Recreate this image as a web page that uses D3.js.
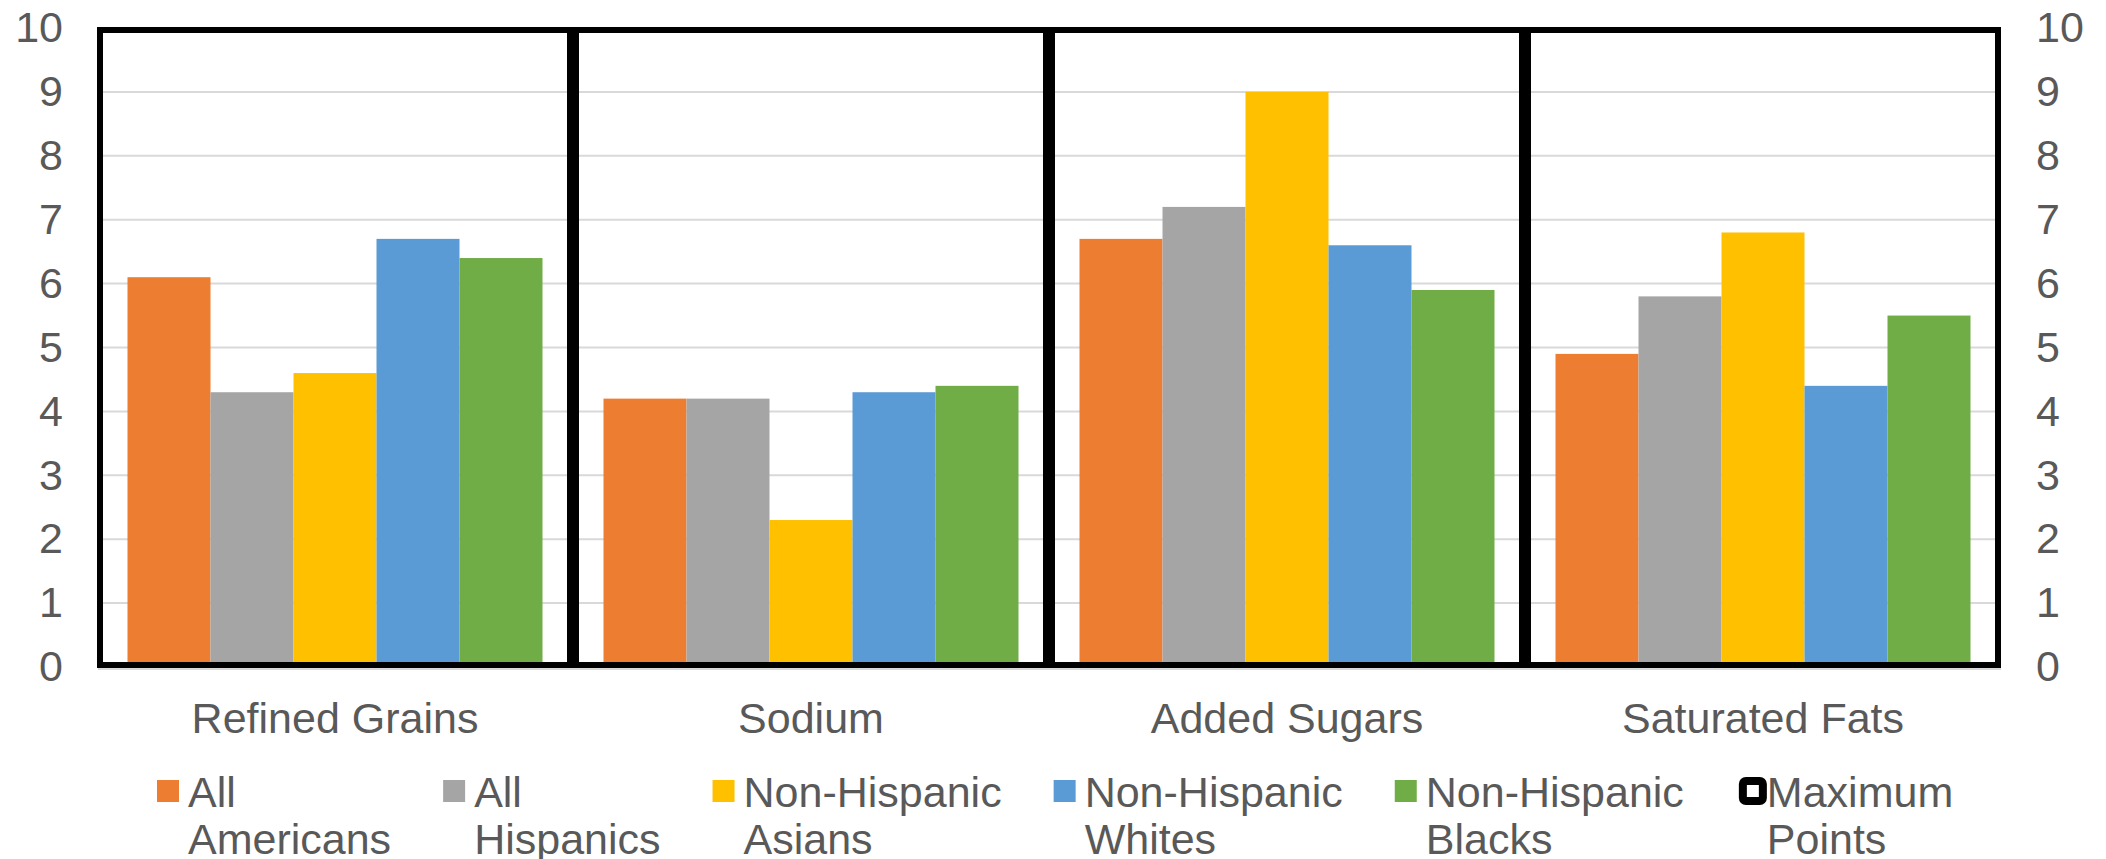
<!DOCTYPE html>
<html>
<head>
<meta charset="utf-8">
<script src="https://cdn.jsdelivr.net/npm/d3@7"></script>
<style>
  html, body { margin: 0; padding: 0; background: #ffffff; }
  svg { display: block; }
  text { font-family: "Liberation Sans", Arial, sans-serif; fill: #595959; }
</style>
</head>
<body>
<svg id="chart" width="2106" height="859"></svg>
<script>
// Dietary components and the score of each population group
const categories = ["Refined Grains", "Sodium", "Added Sugars", "Saturated Fats"];
const groups = ["All Americans", "All Hispanics", "Non-Hispanic Asians", "Non-Hispanic Whites", "Non-Hispanic Blacks"];
const allAmericans = [6.1, 4.2, 6.7, 4.9];
const allHispanics = [4.3, 4.2, 7.2, 5.8];
const nhAsians     = [4.6, 2.3, 9.0, 6.8];
const nhWhites     = [6.7, 4.3, 6.6, 4.4];
const nhBlacks     = [6.4, 4.4, 5.9, 5.5];
const maximumPoints = [10, 10, 10, 10];
const maxLabel = "Maximum Points";
const yTicks = [0, 1, 2, 3, 4, 5, 6, 7, 8, 9, 10];
const groupColors = ["#ED7D31", "#A5A5A5", "#FFC000", "#5B9BD5", "#70AD47"];

const seriesValues = [allAmericans, allHispanics, nhAsians, nhWhites, nhBlacks];

const svg = d3.select("#chart");
const FONT = 43;

const plot = { left: 97, right: 2001, top: 28, bottom: 667 };

const x = d3.scaleBand().domain(categories).range([plot.left, plot.right]).padding(0);
const xs = d3.scaleBand().domain(groups).range([0, x.bandwidth()]).paddingInner(0).paddingOuter(0.3675);
const y = d3.scaleLinear().domain([0, 10]).range([plot.bottom, plot.top]);

// horizontal gridlines
svg.append("g").selectAll("line")
  .data(yTicks.filter(t => t > 0 && t < 10))
  .join("line")
  .attr("x1", plot.left).attr("x2", plot.right)
  .attr("y1", d => y(d)).attr("y2", d => y(d))
  .attr("stroke", "#D9D9D9").attr("stroke-width", 2);

// category axis line
svg.append("line")
  .attr("x1", plot.left + 1).attr("x2", plot.right)
  .attr("y1", y(0) + 2).attr("y2", y(0) + 2)
  .attr("stroke", "#D9D9D9").attr("stroke-width", 2);

// bars
const barRows = [];
categories.forEach((c, ci) => {
  groups.forEach((g, gi) => barRows.push({ cat: c, group: g, gi, value: seriesValues[gi][ci] }));
});
svg.append("g").selectAll("rect")
  .data(barRows)
  .join("rect")
  .attr("x", d => x(d.cat) + xs(d.group))
  .attr("width", xs.bandwidth())
  .attr("y", d => y(d.value))
  .attr("height", d => y(0) - y(d.value))
  .attr("fill", d => groupColors[d.gi]);

// maximum-points frames (unfilled bars spanning each category)
const SW = 6;
svg.append("g").selectAll("rect")
  .data(categories.map((c, i) => ({ cat: c, value: maximumPoints[i] })))
  .join("rect")
  .attr("x", d => x(d.cat) + SW / 2)
  .attr("width", x.bandwidth() - SW)
  .attr("y", d => y(d.value) + 2)
  .attr("height", d => y(0) - 2 - (y(d.value) + 2))
  .attr("fill", "none")
  .attr("stroke", "#000")
  .attr("stroke-width", SW);

// value axes on both sides
const leftAxis = svg.append("g")
  .attr("transform", `translate(${plot.left},0)`)
  .call(d3.axisLeft(y).tickValues(yTicks).tickSize(0).tickPadding(34).tickFormat(d3.format("d")));
const rightAxis = svg.append("g")
  .attr("transform", `translate(${plot.right},0)`)
  .call(d3.axisRight(y).tickValues(yTicks).tickSize(0).tickPadding(35).tickFormat(d3.format("d")));
[leftAxis, rightAxis].forEach(a => {
  a.select(".domain").remove();
  a.attr("font-family", null);
  a.selectAll("text").attr("font-size", FONT).attr("fill", "#595959");
});

// category labels
const catAxis = svg.append("g")
  .attr("transform", `translate(0,${y(0)})`)
  .call(d3.axisBottom(x).tickSize(0).tickPadding(35));
catAxis.select(".domain").remove();
catAxis.attr("font-family", null);
catAxis.selectAll("text").attr("font-size", FONT).attr("fill", "#595959");

// legend
const legendItems = groups.map((g, i) => ({ label: g, color: groupColors[i], frame: false }))
  .concat([{ label: maxLabel, color: "#fff", frame: true }]);
const legend = svg.append("g").attr("class", "legend");
let lx = 157;
const line1 = 807, lineGap = 47;
legendItems.forEach(item => {
  const g = legend.append("g").attr("transform", `translate(${lx},0)`);
  if (item.frame) {
    g.append("rect").attr("x", 7).attr("y", 781).attr("width", 20).attr("height", 20)
      .attr("rx", 3).attr("fill", "#fff").attr("stroke", "#000").attr("stroke-width", 8);
  } else {
    g.append("rect").attr("x", 0).attr("y", 780).attr("width", 22).attr("height", 22)
      .attr("fill", item.color);
  }
  const words = item.label.split(" ");
  const t = g.append("text").attr("font-size", FONT).attr("x", 31).attr("y", line1);
  t.append("tspan").attr("x", 31).attr("y", line1).text(words[0]);
  t.append("tspan").attr("x", 31).attr("y", line1 + lineGap).text(words.slice(1).join(" "));
  const w = Math.max(...t.selectAll("tspan").nodes().map(n => n.getComputedTextLength()));
  lx += 31 + w + 52;
});
</script>
</body>
</html>
